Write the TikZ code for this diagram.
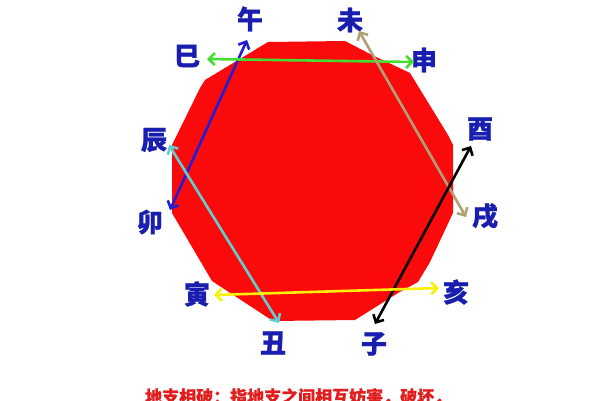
\documentclass[tikz,border=0pt]{standalone}
\usepackage{fontspec}
\newfontfamily\cjk{Noto Sans CJK SC}[BoldFeatures={FakeBold=1}]
\usetikzlibrary{arrows.meta}
\definecolor{octred}{RGB}{250,10,10}
\definecolor{lblblue}{RGB}{25,30,175}
\definecolor{lnblue}{RGB}{35,30,210}
\definecolor{lngreen}{RGB}{70,220,50}
\definecolor{lntan}{RGB}{175,160,120}
\definecolor{lncyan}{RGB}{100,205,205}
\definecolor{lnyellow}{RGB}{250,240,10}
\definecolor{txtred}{RGB}{225,30,30}
\begin{document}
\begin{tikzpicture}[x=1pt,y=-1pt,
  lbl/.style={font=\cjk\fontsize{26}{26}\selectfont\bfseries, text=lblblue, inner sep=0pt},
  link/.style={line width=2.6pt, {Straight Barb[length=6pt,width=12pt]}-{Straight Barb[length=6pt,width=12pt]}}]
\useasboundingbox (0,0) rectangle (600,400);
\clip (0,0) rectangle (600,400);
% octagon
\fill[octred] (268,42) -- (345,41) -- (372,55) -- (410,73) -- (448,135) -- (453,145)
  -- (453,213) -- (430,262) -- (418,282) -- (398,293) -- (355,320) -- (273,321)
  -- (212,281) -- (172,213) -- (172,145) -- (200,88) -- (205,80) -- cycle;
% labels
\node[lbl] (wu)   at (250,19)  {午};
\node[lbl] (wei)  at (350,20)  {未};
\node[lbl] (si)   at (187,56)  {巳};
\node[lbl] (shen) at (424,60)  {申};
\node[lbl] (chen) at (154,140) {辰};
\node[lbl] (you)  at (480,129) {酉};
\node[lbl] (mao)  at (150,222) {卯};
\node[lbl] (xu)   at (485,216) {戌};
\node[lbl] (yin)  at (197,294) {寅};
\node[lbl] (hai)  at (456,292) {亥};
\node[lbl] (chou) at (273,343) {丑};
\node[lbl] (zi)   at (374,344) {子};
% arrow end points
\coordinate (pwu)   at (247,40);
\coordinate (pmao)  at (170,210);
\coordinate (psi)   at (207,59);
\coordinate (pshen) at (414,62);
\coordinate (pwei)  at (359,31);
\coordinate (pxu)   at (466,217);
\coordinate (pyou)  at (471,146);
\coordinate (pzi)   at (375,324);
\coordinate (pchen) at (169,145);
\coordinate (pchou) at (279,323);
\coordinate (pyin)  at (214,295);
\coordinate (phai)  at (439,288);
% connectors
\draw[link, lnblue]   (pmao) -- (pwu);
\draw[link, lngreen]  (psi) -- (pshen);
\draw[link, lntan]    (pwei) -- (pxu);
\draw[link, black]    (pyou) -- (pzi);
\draw[link, lncyan]   (pchen) -- (pchou);
\draw[link, lnyellow] (pyin) -- (phai);
% caption (cut at bottom edge, as in the reference)
\node[font=\cjk\fontsize{17}{17}\selectfont\bfseries, text=txtred, anchor=north west, inner sep=0pt] (cap) at (145,388) {地支相破：指地支之间相互妨害，破坏，};
\end{tikzpicture}
\end{document}
